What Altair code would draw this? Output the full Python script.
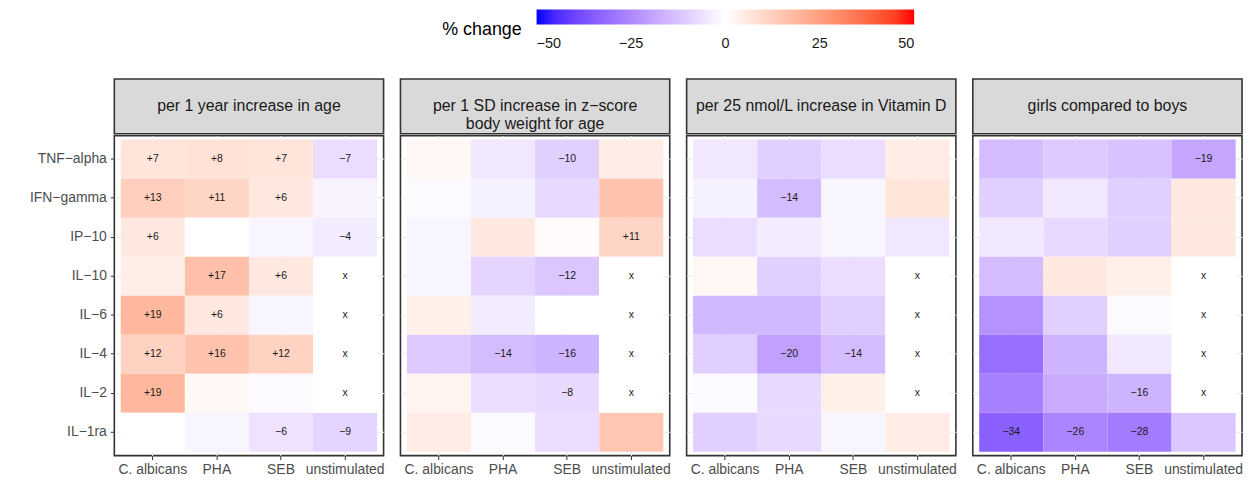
import altair as alt
import pandas as pd

stimuli = ["C. albicans", "PHA", "SEB", "unstimulated"]
cytokines = ["TNF−alpha", "IFN−gamma", "IP−10", "IL−10", "IL−6", "IL−4", "IL−2", "IL−1ra"]
panel_titles = [
    "per 1 year increase in age",
    "per 1 SD increase in z−score\nbody weight for age",
    "per 25 nmol/L increase in Vitamin D",
    "girls compared to boys",
]

NA = None
# values: rows = cytokines (top to bottom), columns = stimuli
age_values = [
    7, 8, 7, -7,
    13, 11, 6, -2.5,
    6, 0, -2, -4,
    4.5, 17, 6, NA,
    19, 6, -2, NA,
    12, 16, 12, NA,
    19, 2, -1, NA,
    0, -2, -6, -9,
]
age_labels = [
    "+7", "+8", "+7", "−7",
    "+13", "+11", "+6", "",
    "+6", "", "", "−4",
    "", "+17", "+6", "x",
    "+19", "+6", "", "x",
    "+12", "+16", "+12", "x",
    "+19", "", "", "x",
    "", "", "−6", "−9",
]
weight_values = [
    2, -5, -10, 5,
    -1, -3, -8, 16,
    -2, 6, 1, 11,
    -2, -9, -12, NA,
    4, -4, 0, NA,
    -11, -14, -16, NA,
    3, -7, -8, NA,
    5, -1, -7, 15,
]
weight_labels = [
    "", "", "−10", "",
    "", "", "", "",
    "", "", "", "+11",
    "", "", "−12", "x",
    "", "", "", "x",
    "", "−14", "−16", "x",
    "", "", "−8", "x",
    "", "", "", "",
]
vitd_values = [
    -5, -10, -7, 5,
    -3, -14, -2, 7,
    -7, -4, -2, -5,
    2, -10, -7, NA,
    -15, -15, -10, NA,
    -10, -20, -14, NA,
    -1, -8, 4, NA,
    -10, -8, -2, 5,
]
vitd_labels = [
    "", "", "", "",
    "", "−14", "", "",
    "", "", "", "",
    "", "", "", "x",
    "", "", "", "x",
    "", "−20", "−14", "x",
    "", "", "", "x",
    "", "", "", "",
]
sex_values = [
    -14, -11, -13, -19,
    -10, -5, -10, 6,
    -5, -8, -10, 6,
    -14, 6, 4, NA,
    -23, -10, -1, NA,
    -31, -16, -5, NA,
    -27, -18, -16, NA,
    -34, -26, -28, -12,
]
sex_labels = [
    "", "", "", "−19",
    "", "", "", "",
    "", "", "", "",
    "", "", "", "x",
    "", "", "", "x",
    "", "", "", "x",
    "", "", "−16", "x",
    "−34", "−26", "−28", "",
]

panel_values = [age_values, weight_values, vitd_values, sex_values]
panel_labels = [age_labels, weight_labels, vitd_labels, sex_labels]

W, H, SH = 271, 322, 55
GRID = "#ebebeb"
BORDER = "#333333"
TXT = "#4d4d4d"
AX_FS = 14

color_scale = alt.Scale(domain=[-50, 0, 50], range=["#0000ff", "#ffffff", "#ff0000"], interpolate="lab")
legend = alt.Legend(
    title="% change", orient="none", direction="horizontal",
    legendX=330, legendY=-70,
    gradientLength=380, gradientThickness=15,
    values=[-50, -25, 0, 25, 50],
    titleOrient="left", titleAnchor="middle", titleFontSize=18, titleFontWeight="normal",
    titleColor="#000000", titlePadding=14, titleBaseline="line-top", titleLineHeight=26,
    labelFontSize=14.5, labelColor="#1a1a1a", labelOverlap=False, labelOffset=13,
    gradientStrokeWidth=0,
)


def panel(k):
    rows = []
    for i, cy in enumerate(cytokines):
        for j, st in enumerate(stimuli):
            idx = i * 4 + j
            v = panel_values[k][idx]
            rows.append({"cytokine": cy, "stimulus": st, "value": v,
                         "missing": v is None, "label": panel_labels[k][idx]})
    df = pd.DataFrame(rows)
    show_y = k == 0
    xaxis = alt.Axis(title=None, grid=True, gridColor=GRID, domain=False, bandPosition=0.5,
                     tickColor=BORDER, tickSize=4, labelFontSize=AX_FS, labelColor=TXT,
                     labelPadding=3, labelAngle=0, zindex=0)
    if show_y:
        yaxis = alt.Axis(title=None, grid=True, gridColor=GRID, domain=False, bandPosition=0.5,
                         tickColor=BORDER, tickSize=4, labelFontSize=AX_FS, labelColor=TXT,
                         labelPadding=4, zindex=0)
    else:
        yaxis = alt.Axis(title=None, grid=True, gridColor=GRID, domain=False, bandPosition=0.5,
                         labels=False, ticks=False, zindex=0)
    xs = alt.X("stimulus:N", sort=stimuli, scale=alt.Scale(paddingInner=0, paddingOuter=0.1), axis=xaxis)
    ys = alt.Y("cytokine:N", sort=cytokines, scale=alt.Scale(paddingInner=0, paddingOuter=0.1), axis=yaxis)
    base = alt.Chart(df)
    rect = base.transform_filter("!datum.missing").mark_rect(strokeWidth=0).encode(
        x=xs, y=ys,
        color=alt.Color("value:Q", scale=color_scale, legend=legend),
    )
    na_rect = base.transform_filter("datum.missing").mark_rect(strokeWidth=0, color="#ffffff").encode(
        x=xs, y=ys,
    )
    text = base.mark_text(fontSize=10.5, color="#1a1a1a").encode(x=xs, y=ys, text="label:N")
    heat = alt.layer(rect, na_rect, text).properties(
        width=W, height=H,
        view=alt.ViewBackground(fill="white", stroke=BORDER, strokeWidth=1.6),
    )
    strip = alt.Chart(pd.DataFrame({"t": [panel_titles[k]]})).mark_text(
        fontSize=16, color="#1a1a1a", lineBreak="\n", lineHeight=18, baseline="middle"
    ).encode(text="t:N", x=alt.value(W / 2), y=alt.value(SH / 2)).properties(
        width=W, height=SH,
        view=alt.ViewBackground(fill="#d9d9d9", stroke=BORDER, strokeWidth=1.6),
    )
    return alt.vconcat(strip, heat, spacing=2, bounds="flush")


chart = alt.hconcat(*[panel(k) for k in range(4)], spacing=14).configure(
    font="Liberation Sans",
    padding={"left": 20, "top": 0, "right": 5, "bottom": 5},
).resolve_scale(color="shared")

chart.save("out.html", embed_options={"renderer": "svg", "actions": False})
